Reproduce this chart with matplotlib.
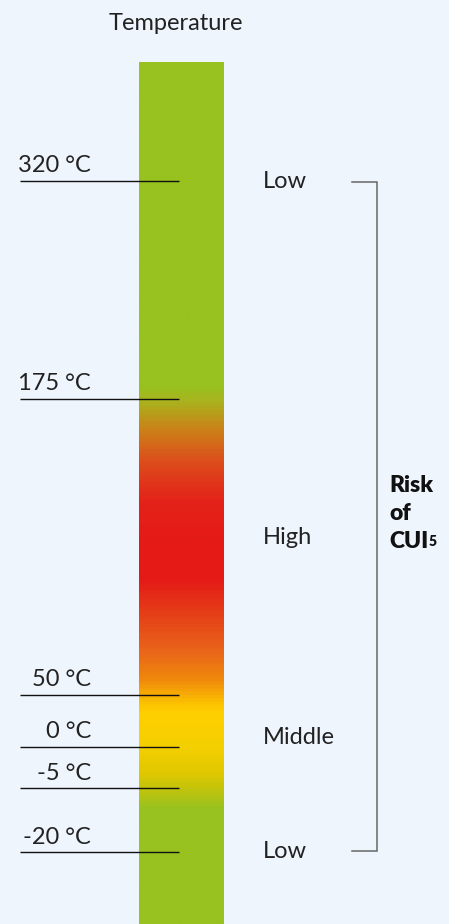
import numpy as np
import matplotlib
matplotlib.use("Agg")
import matplotlib.pyplot as plt
from matplotlib.colors import LinearSegmentedColormap, to_rgb

# ---- data ----
temp_labels = ["320 °C", "175 °C", "50 °C", "0 °C", "-5 °C", "-20 °C"]
temp_pos = [181, 399, 695, 746.5, 788, 852]          # vertical position (px) of each mark
risk_labels = ["Low", "High", "Middle", "Low"]
risk_pos = [182, 538, 737, 851]
grad_pos = [62, 385, 400, 430, 460, 500, 540, 580, 610, 650, 680, 705, 715, 750, 775, 795, 810, 924]
grad_cols = ["#97c21f", "#97c21f", "#a8b41e", "#cc8018", "#dc4f1c", "#e4231a", "#e51a17",
             "#e51a17", "#e43a18", "#e9631a", "#f0880c", "#fcc300", "#ffd000", "#f3cf00",
             "#dfc800", "#b9c310", "#97c21f", "#97c21f"]

BG = "#eff5fd"
W, H = 449, 924
fig = plt.figure(figsize=(W / 100, H / 100), dpi=100, facecolor=BG)
ax = fig.add_axes([0, 0, 1, 1])
ax.set_facecolor(BG)
ax.set_xlim(0, W)
ax.set_ylim(H, 0)
ax.axis("off")

FONT = "Lato"
TXT = "#222222"
FS = 17

# gradient bar
top, bot = grad_pos[0], grad_pos[-1]
stops = [((p - top) / (bot - top), to_rgb(c)) for p, c in zip(grad_pos, grad_cols)]
cmap = LinearSegmentedColormap.from_list("cui", stops)
grad = np.linspace(0, 1, 900).reshape(-1, 1)
ax.imshow(grad, cmap=cmap, aspect="auto", extent=[139, 224, bot, top], interpolation="bilinear", zorder=1)

ax.text(176, 23, "Temperature", fontsize=FS, family=FONT, color=TXT, ha="center", va="center")

for lab, y in zip(temp_labels, temp_pos):
    ax.plot([20, 179], [y, y], color="#111111", lw=1.0, zorder=3, solid_capstyle="butt")
    ax.text(91, y - 8.5, lab, fontsize=FS, family=FONT, color=TXT, ha="right", va="baseline", zorder=4)

for lab, y in zip(risk_labels, risk_pos):
    ax.text(263, y, lab, fontsize=FS, family=FONT, color=TXT, ha="left", va="center")

# bracket
ax.plot([352, 377, 377, 352], [risk_pos[0], risk_pos[0], risk_pos[-1], risk_pos[-1]],
        color="#666666", lw=1.1, solid_joinstyle="miter")

BFS = 16.5
ax.text(389, 485, "Risk", fontsize=BFS, family=FONT, weight="heavy", color="#111111", ha="left", va="center")
ax.text(389, 513, "of", fontsize=BFS, family=FONT, weight="heavy", color="#111111", ha="left", va="center")
cui = ax.text(389, 541, "CUI", fontsize=BFS, family=FONT, weight="heavy", color="#111111", ha="left", va="center")
ax.annotate("5", xy=(1, 1), xycoords=cui, xytext=(0.5, -3), textcoords="offset points",
            fontsize=10, family=FONT, weight="heavy", color="#111111", ha="left", va="top")

fig.savefig("out.png", dpi=100, facecolor=BG)
